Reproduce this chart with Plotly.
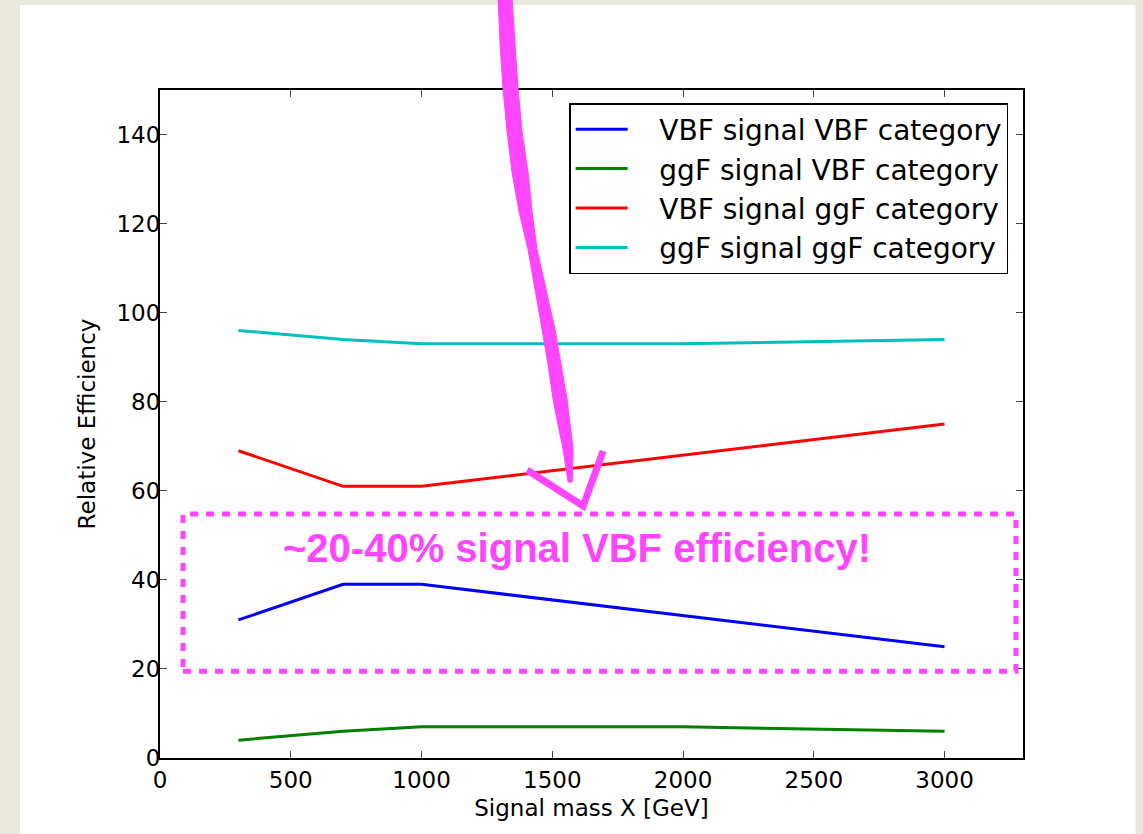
import plotly.graph_objects as go

# ---- data ----
mass = [300, 700, 1000, 2000, 3000]
vbf_sig_vbf_cat = [31, 39, 39, 32, 25]
ggf_sig_vbf_cat = [4, 6, 7, 7, 6]
vbf_sig_ggf_cat = [69, 61, 61, 68, 75]
ggf_sig_ggf_cat = [96, 94, 93, 93, 94]

series_names = ["VBF signal VBF category", "ggF signal VBF category",
                "VBF signal ggF category", "ggF signal ggF category"]
series_values = [vbf_sig_vbf_cat, ggf_sig_vbf_cat, vbf_sig_ggf_cat, ggf_sig_ggf_cat]
series_colors = ["#0000ff", "#008000", "#ff0000", "#00bfbf"]

x_ticks = [0, 500, 1000, 1500, 2000, 2500, 3000]
y_ticks = [0, 20, 40, 60, 80, 100, 120, 140]

W, H = 1143, 834
L, R, T, B = 160, 1022.7, 90, 758

fig = go.Figure()
for name, vals, col in zip(series_names, series_values, series_colors):
    fig.add_trace(go.Scatter(x=mass, y=vals, mode="lines",
                             name="\u00a0\u00a0\u00a0" + name,
                             line=dict(color=col, width=3)))

def px(x, y):
    return ((x - L) / (R - L), (B - y) / (B - T))

MAG = "#ff45ff"
shapes = []
# white slide panel
x0, y0 = px(20, 5)
x1, y1 = px(1135, 840)
shapes.append(dict(type="rect", xref="paper", yref="paper", x0=x0, y0=y1, x1=x1, y1=y0,
                   fillcolor="white", line=dict(width=0), layer="below"))

# dashed highlight box (data coordinates)
shapes.append(dict(type="rect", xref="x", yref="y", x0=88, x1=3273, y0=19.5, y1=54.8,
                   line=dict(color=MAG, width=5, dash="8px,8px"), layer="above"))

# hand-drawn arrow shaft (tapering polygon)
left_edge = [(498, 0), (500, 45), (503, 90), (507, 132), (512, 173), (519, 212), (528, 250),
             (535, 290), (542, 330), (548, 365), (553, 400), (558, 425), (563, 450), (568, 482)]
right_edge = [(512, 0), (515, 45), (518, 90), (522, 132), (528, 173), (532, 212), (537, 250),
              (546, 290), (555, 330), (561, 365), (567, 400), (570, 425), (573, 450), (572, 482)]
pts = left_edge + right_edge[::-1]
path = "M " + " L ".join("%.5f,%.5f" % px(a, b) for a, b in pts) + " Z"
shapes.append(dict(type="path", xref="paper", yref="paper", path=path,
                   fillcolor=MAG, line=dict(color=MAG, width=1), layer="above"))
# arrow head
head = [(527, 470), (583, 506), (603, 451)]
hpath = "M " + " L ".join("%.5f,%.5f" % px(a, b) for a, b in head)
shapes.append(dict(type="path", xref="paper", yref="paper", path=hpath,
                   line=dict(color=MAG, width=7), layer="above"))

fig.update_layout(
    width=W, height=H,
    margin=dict(l=L, r=W - R, t=T, b=H - B, pad=0),
    paper_bgcolor="#eae9df",
    plot_bgcolor="white",
    font=dict(family="DejaVu Sans", color="black", size=23),
    shapes=shapes,
    showlegend=True,
    legend=dict(x=px(569, 103)[0], y=px(569, 103)[1], xanchor="left", yanchor="top",
                bgcolor="white", bordercolor="black", borderwidth=1.5,
                font=dict(size=28, family="DejaVu Sans"), itemwidth=52,
                tracegroupgap=0),
    annotations=[dict(x=1595, y=47.2, xref="x", yref="y", showarrow=False,
                      text="~20-40% signal VBF efficiency!",
                      font=dict(family="Liberation Sans, Arial", size=40, color=MAG, weight="bold"))],
)
fig.update_xaxes(range=[0, 3300], tickvals=x_ticks, ticks="inside", ticklen=7, tickwidth=1,
                 showline=True, linecolor="black", linewidth=2, mirror="ticks",
                 showgrid=False, zeroline=False,
                 title=dict(text="Signal mass X [GeV]", standoff=8, font=dict(size=23)))
fig.update_yaxes(range=[0, 150], tickvals=y_ticks, ticks="inside", ticklen=7, tickwidth=1,
                 showline=True, linecolor="black", linewidth=2, mirror="ticks",
                 showgrid=False, zeroline=False, ticklabelstandoff=-7,
                 title=dict(text="Relative Efficiency", standoff=14, font=dict(size=23)))

fig.write_html("out.html", config={"displayModeBar": False},
               post_script="document.body.style.margin='0';document.body.style.background='#eae9df';")
